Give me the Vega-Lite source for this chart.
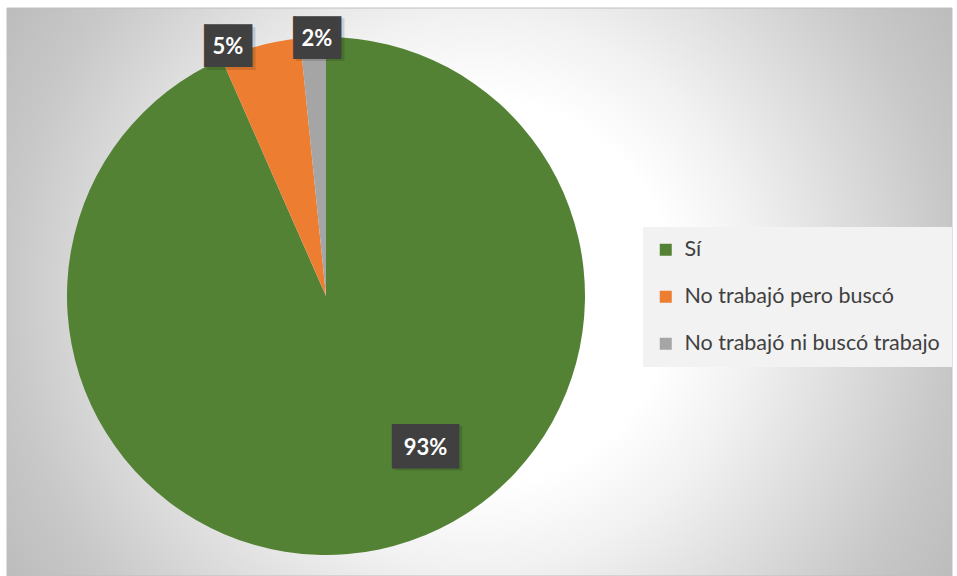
{
  "$schema": "https://vega.github.io/schema/vega-lite/v6.json",
  "width": 945,
  "height": 568,
  "autosize": {"type": "none"},
  "padding": {"left": 7, "top": 8, "right": 5, "bottom": 0},
  "background": "#ffffff",
  "config": {"view": {"stroke": null}},
  "layer": [
    {
      "data": {"values": [{"panel": "fondo"}]},
      "mark": {
        "type": "rect",
        "fill": {
          "gradient": "radial",
          "x1": 0.5, "y1": 0.5, "r1": 0,
          "x2": 0.5, "y2": 0.5, "r2": 0.6,
          "stops": [
            {"offset": 0, "color": "#ffffff"},
            {"offset": 0.34, "color": "#ffffff"},
            {"offset": 0.49, "color": "#f1f1f1"},
            {"offset": 0.83, "color": "#c8c8c8"},
            {"offset": 1, "color": "#bababa"}
          ]
        },
        "stroke": "#bfbfbf",
        "strokeWidth": 1
      },
      "encoding": {
        "x": {"value": 0},
        "y": {"value": 0},
        "x2": {"value": "width"},
        "y2": {"value": "height"}
      }
    },
    {
      "data": {
        "values": [
          {"cat": "Sí", "pct": 0.934},
          {"cat": "No trabajó pero buscó", "pct": 0.05},
          {"cat": "No trabajó ni buscó trabajo", "pct": 0.016}
        ]
      },
      "encoding": {
        "theta": {"field": "pct", "type": "quantitative", "stack": true},
        "order": {"field": "pct", "type": "quantitative", "sort": "descending"}
      },
      "layer": [
        {
          "mark": {"type": "arc", "x": 319, "y": 288, "outerRadius": 259},
          "encoding": {
            "color": {
              "field": "cat",
              "type": "nominal",
              "scale": {
                "domain": ["Sí", "No trabajó pero buscó", "No trabajó ni buscó trabajo"],
                "range": ["#548235", "#ed7d31", "#a5a5a5"]
              },
              "legend": {
                "orient": "none",
                "legendX": 636,
                "legendY": 219,
                "title": null,
                "fillColor": "#f2f2f2",
                "padding": 12,
                "symbolType": "square",
                "symbolSize": 144,
                "symbolStrokeWidth": 0,
                "symbolOpacity": 1,
                "labelFont": "Lato",
                "labelFontSize": 21.5,
                "labelColor": "#404040",
                "labelOffset": 8,
                "rowPadding": 24,
                "labelLimit": 400
              }
            }
          }
        },
        {
          "mark": {"type": "text", "x": 319, "y": 288, "radius": 168, "dx": 68, "dy": -10, "font": "DejaVu Sans Mono", "fontSize": 37.5, "color": "#000000", "opacity": 0.12, "align": "center", "baseline": "middle"},
          "encoding": {
            "detail": {"field": "cat"},
            "text": {"condition": {"test": "datum.cat === 'Sí'", "value": "▐██▌"}, "value": ""}
          }
        },
        {
          "mark": {"type": "text", "x": 319, "y": 288, "radius": 168, "dx": 65, "dy": -12, "font": "DejaVu Sans Mono", "fontSize": 37.5, "color": "#404040", "align": "center", "baseline": "middle"},
          "encoding": {
            "detail": {"field": "cat"},
            "text": {"condition": {"test": "datum.cat === 'Sí'", "value": "▐██▌"}, "value": ""}
          }
        },
        {
          "mark": {"type": "text", "x": 319, "y": 288, "radius": 168, "dx": 65, "dy": -12, "font": "Lato", "fontWeight": "bold", "fontSize": 22, "color": "#ffffff", "align": "center", "baseline": "middle"},
          "encoding": {
            "detail": {"field": "cat"},
            "text": {"condition": {"test": "datum.cat === 'Sí'", "field": "pct", "type": "quantitative", "format": ".0%"}, "value": ""}
          }
        },
        {
          "mark": {"type": "text", "x": 319, "y": 288, "radius": 267, "dx": -27, "dy": 12, "font": "DejaVu Sans Mono", "fontSize": 36, "color": "#000000", "opacity": 0.12, "align": "center", "baseline": "middle"},
          "encoding": {
            "detail": {"field": "cat"},
            "text": {"condition": {"test": "datum.cat === 'No trabajó pero buscó'", "value": "▕██▏"}, "value": ""}
          }
        },
        {
          "mark": {"type": "text", "x": 319, "y": 288, "radius": 267, "dx": -30, "dy": 9.5, "font": "DejaVu Sans Mono", "fontSize": 36, "color": "#404040", "align": "center", "baseline": "middle"},
          "encoding": {
            "detail": {"field": "cat"},
            "text": {"condition": {"test": "datum.cat === 'No trabajó pero buscó'", "value": "▕██▏"}, "value": ""}
          }
        },
        {
          "mark": {"type": "text", "x": 319, "y": 288, "radius": 267, "dx": -30, "dy": 9.5, "font": "Lato", "fontWeight": "bold", "fontSize": 22, "color": "#ffffff", "align": "center", "baseline": "middle"},
          "encoding": {
            "detail": {"field": "cat"},
            "text": {"condition": {"test": "datum.cat === 'No trabajó pero buscó'", "field": "pct", "type": "quantitative", "format": ".0%"}, "value": ""}
          }
        },
        {
          "mark": {"type": "text", "x": 319, "y": 288, "radius": 259, "dx": 7, "dy": 3.5, "font": "DejaVu Sans Mono", "fontSize": 36, "color": "#000000", "opacity": 0.12, "align": "center", "baseline": "middle"},
          "encoding": {
            "detail": {"field": "cat"},
            "text": {"condition": {"test": "datum.cat === 'No trabajó ni buscó trabajo'", "value": "▕██▏"}, "value": ""}
          }
        },
        {
          "mark": {"type": "text", "x": 319, "y": 288, "radius": 259, "dx": 4, "dy": 1.5, "font": "DejaVu Sans Mono", "fontSize": 36, "color": "#404040", "align": "center", "baseline": "middle"},
          "encoding": {
            "detail": {"field": "cat"},
            "text": {"condition": {"test": "datum.cat === 'No trabajó ni buscó trabajo'", "value": "▕██▏"}, "value": ""}
          }
        },
        {
          "mark": {"type": "text", "x": 319, "y": 288, "radius": 259, "dx": 4, "dy": 1.5, "font": "Lato", "fontWeight": "bold", "fontSize": 22, "color": "#ffffff", "align": "center", "baseline": "middle"},
          "encoding": {
            "detail": {"field": "cat"},
            "text": {"condition": {"test": "datum.cat === 'No trabajó ni buscó trabajo'", "field": "pct", "type": "quantitative", "format": ".0%"}, "value": ""}
          }
        }
      ]
    }
  ]
}
